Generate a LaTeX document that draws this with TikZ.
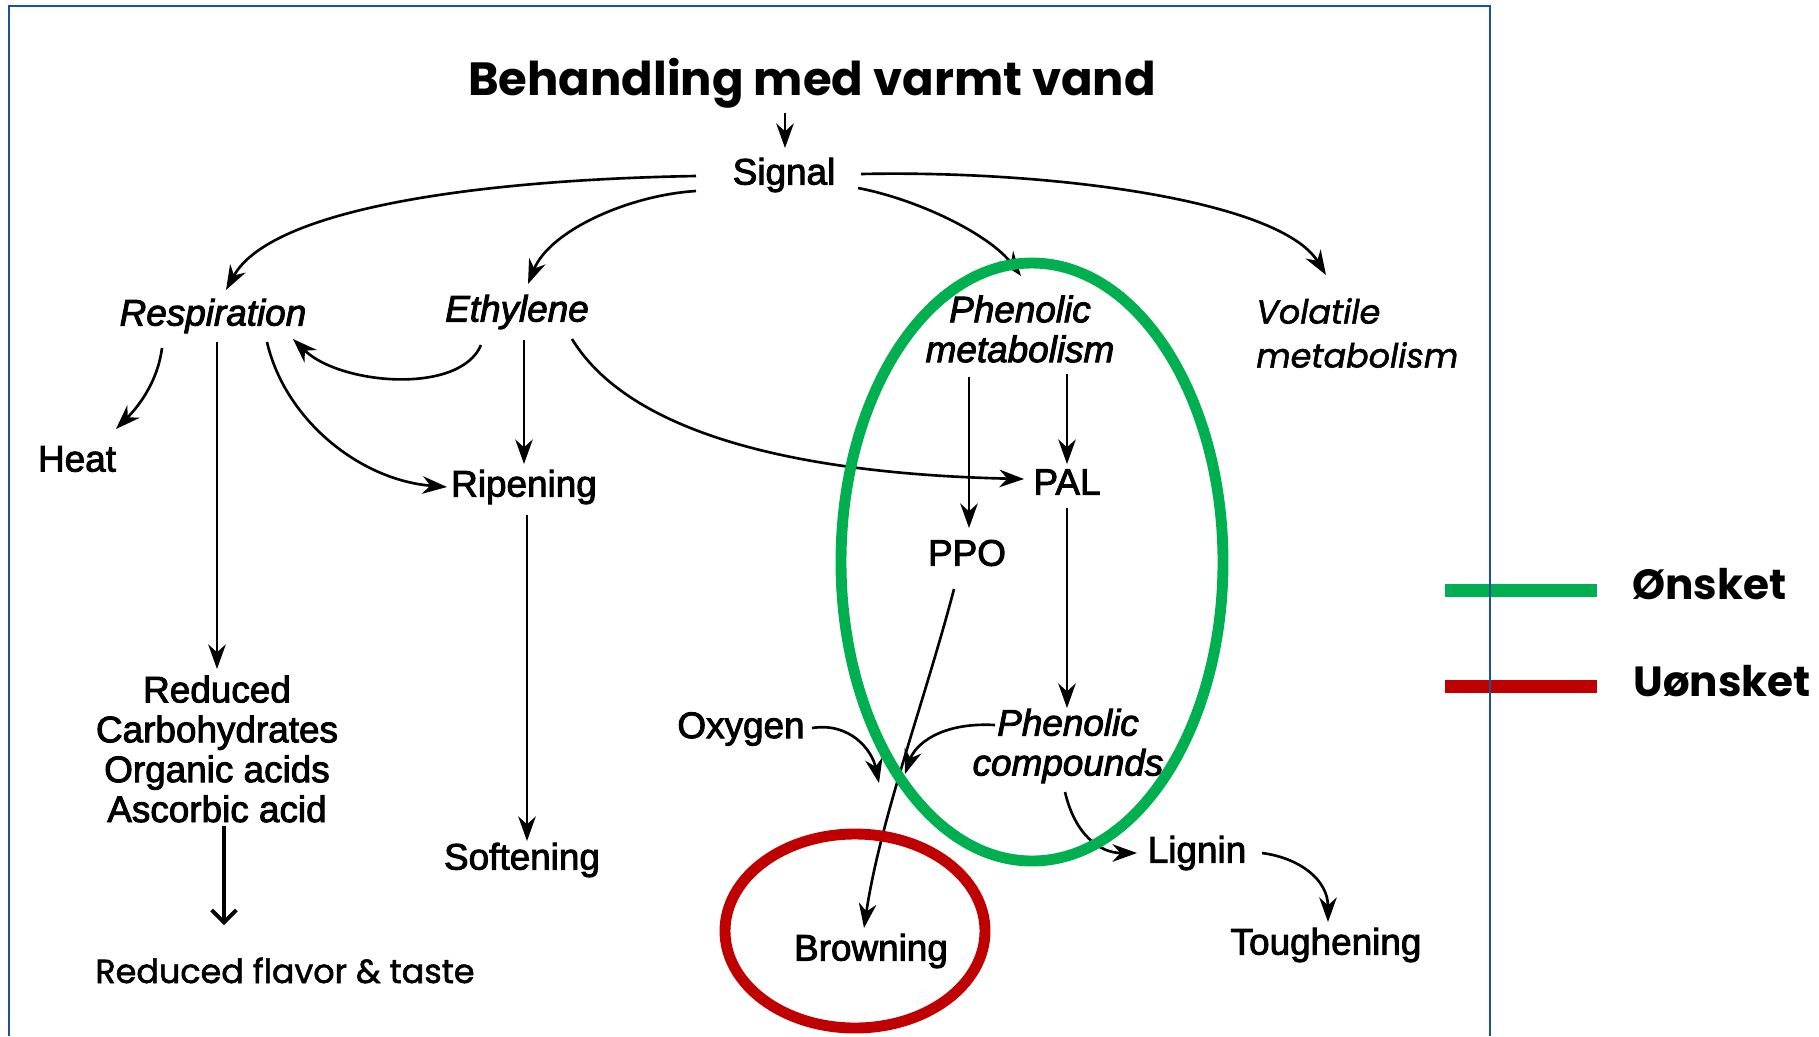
\documentclass[tikz,border=0pt]{standalone}
\usepackage{fontspec}
\setmainfont{Liberation Sans}
\newfontfamily\scanf{Liberation Sans}[FakeBold=2.5]
\newfontfamily\pop{Poppins}
\newfontfamily\popmed{Poppins}[FakeBold=1.6]
\usetikzlibrary{arrows.meta,calc}
\definecolor{frameblue}{RGB}{30,80,160}
\definecolor{okgreen}{RGB}{0,176,80}
\definecolor{badred}{RGB}{192,0,0}
\begin{document}
\begin{tikzpicture}[x=0.02cm,y=-0.02cm,
  lbl/.style={font=\scanf\fontsize{21}{22.7}\selectfont, inner sep=0pt, align=center},
  ilbl/.style={lbl, font=\scanf\fontsize{21}{22.7}\selectfont\itshape},
  arr/.style={line width=1.5pt, -{Stealth[length=14pt,width=10pt,inset=4.5pt]}},
  bigarr/.style={line width=2.2pt, -{Straight Barb[length=7pt,width=14pt]}},
  ring/.style={line width=6.2pt},
  legline/.style={line width=7.4pt},
  legtext/.style={font=\pop\bfseries\fontsize{24}{28}\selectfont, anchor=base west, inner sep=0pt}]
\useasboundingbox (0,0) rectangle (1819,1036);
\fill[white] (0,0) rectangle (1819,1036);

% nodes
\node[font=\pop\bfseries\fontsize{26.5}{32}\selectfont, anchor=base, inner sep=0pt] (title) at (812,95) {Behandling med varmt vand};
\node[lbl] (sig) at (784,175) {Signal};
\node[ilbl] (resp) at (213,316) {Respiration};
\node[ilbl] (eth) at (517,312) {Ethylene};
\node[ilbl] (phm) at (1020,329) {Phenolic\\metabolism};
\node[font=\popmed\itshape\fontsize{19}{25}\selectfont, align=left, anchor=west, inner sep=0pt] (vol) at (1256,333) {Volatile\\metabolism};
\node[lbl] (heat) at (77,459) {Heat};
\node[lbl] (rip) at (524,487) {Ripening};
\node[lbl] (pal) at (1067,482) {PAL};
\node[lbl] (ppo) at (967,553) {PPO};
\node[lbl] (red) at (217,749) {Reduced\\Carbohydrates\\Organic acids\\Ascorbic acid};
\node[lbl] (soft) at (522,860) {Softening};
\node[lbl] (oxy) at (741,729) {Oxygen};
\node[ilbl] (phc) at (1068,746) {Phenolic\\compounds};
\node[lbl] (lig) at (1197,853) {Lignin};
\node[lbl] (brown) at (871,951) {Browning};
\node[lbl] (tough) at (1326,945) {Toughening};
\node[font=\popmed\fontsize{19}{22}\selectfont, anchor=base, inner sep=0pt] (flav) at (285,983) {Reduced flavor \& taste};
\coordinate (jox) at (879,783);
\coordinate (jph) at (905,774);

% connectors
\draw[arr] ($(title.base)+(-27,18)$) -- ($(sig)+(1,-27)$);
\draw[arr] ($(sig)+(-88,1)$) .. controls (470,180) and (270,210) .. ($(resp)+(13,-26)$);
\draw[arr] ($(sig)+(-88,16)$) .. controls (630,195) and (550,230) .. ($(eth)+(11,-28)$);
\draw[arr] ($(sig)+(74,13)$) .. controls (920,200) and (990,235) .. ($(phm)+(1,-53)$);
\draw[arr] ($(sig)+(77,-1)$) .. controls (1050,170) and (1280,200) .. ($(vol.west)+(70,-58)$);
\draw[arr] ($(resp)+(-51,32)$) .. controls (158,380) and (140,405) .. ($(heat)+(39,-30)$);
\draw[arr] ($(eth)+(-36,33)$) .. controls (460,395) and (340,385) .. ($(resp)+(80,23)$);
\draw[arr] ($(resp)+(4,26)$) -- ($(red)+(0,-80)$);
\draw[arr] ($(resp)+(54,26)$) .. controls (285,420) and (360,480) .. ($(rip)+(-77,0)$);
\draw[arr] ($(eth)+(7,28)$) -- ($(rip)+(0,-23)$);
\draw[arr] ($(eth)+(55,27)$) .. controls (640,450) and (850,475) .. ($(pal)+(-43,-3)$);
\draw[arr] ($(rip)+(3,28)$) -- ($(soft)+(5,-19)$);
\draw[arr] ($(phm)+(-51,48)$) -- ($(ppo)+(2,-25)$);
\draw[arr] ($(phm)+(47,45)$) -- ($(pal)+(0,-18)$);
\draw[arr] ($(pal)+(0,26)$) -- ($(phc)+(-1,-38)$);
\draw[arr] ($(ppo)+(-13,36)$) .. controls (925,700) and (880,820) .. ($(brown)+(-7,-23)$);
\draw[arr] ($(oxy)+(71,-1)$) .. controls (850,722) and (872,750) .. (jox);
\draw[arr] ($(phc)+(-73,-21)$) .. controls (940,722) and (915,745) .. (jph);
\draw[arr] ($(phc)+(-3,46)$) .. controls (1075,835) and (1100,853) .. ($(lig)+(-60,0)$);
\draw[arr] ($(lig)+(65,0)$) .. controls (1300,858) and (1328,880) .. ($(tough)+(2,-23)$);
\draw[bigarr] ($(red)+(7,77)$) -- ($(flav.base)+(-61,-58)$);

% highlight rings
\draw[okgreen, ring] (1032,562) ellipse [x radius=191, y radius=299];
\draw[badred, ring] (855,931) ellipse [x radius=130, y radius=97];

% legend
\draw[okgreen, legline] (1445,590) -- (1597,590);
\draw[badred, legline] (1445,686) -- (1597,686);
\node[legtext] (ok) at (1632,599) {Ønsket};
\node[legtext] (bad) at (1633,696) {Uønsket};

% frame
\draw[frameblue, line width=1.4pt] (9,1036) -- (9,6) -- (1490,6) -- (1490,1036);
\end{tikzpicture}
\end{document}
